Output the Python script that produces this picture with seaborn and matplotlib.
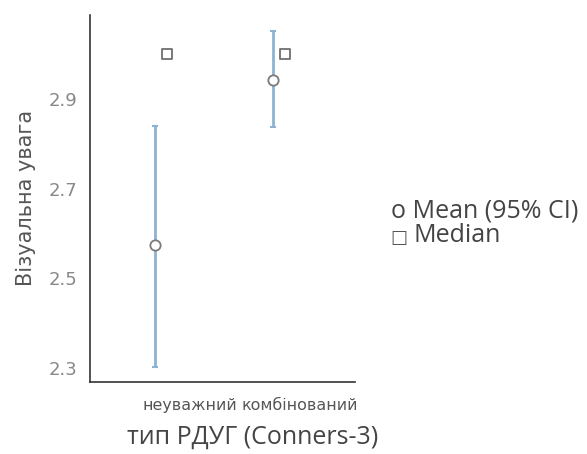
import numpy as np
import pandas as pd
import matplotlib
matplotlib.use("Agg")
import matplotlib.pyplot as plt
import matplotlib.transforms as mtransforms
import seaborn as sns

# data
categories = ["неуважний", "комбінований"]
means = [2.574, 2.942]
ci_low = [2.302, 2.837]
ci_high = [2.840, 3.051]
medians = [3.0, 3.0]
y_ticks = [2.3, 2.5, 2.7, 2.9]

sns.set_style("white")
plt.rcParams["font.family"] = ["DejaVu Sans"]

df = pd.DataFrame({
    "cat": categories,
    "pos": np.arange(len(categories)),
    "mean": means,
    "lo": ci_low,
    "hi": ci_high,
    "median": medians,
})
off = 0.05

fig = plt.figure(figsize=(5.87, 4.54), dpi=100)
ax = fig.add_axes([0.153, 0.159, 0.452, 0.808])

# confidence intervals
ax.errorbar(df["pos"] - off, df["mean"],
            yerr=[df["mean"] - df["lo"], df["hi"] - df["mean"]],
            fmt="none", ecolor="#8fb2d2", elinewidth=2, capsize=2, capthick=1.5, zorder=1)

# means and medians
sns.scatterplot(x=df["pos"] - off, y=df["mean"], ax=ax, marker="o", s=55,
                facecolor="white", edgecolor="#7a7a7a", linewidth=1.3, zorder=3)
sns.scatterplot(x=df["pos"] + off, y=df["median"], ax=ax, marker="s", s=45,
                facecolor="white", edgecolor="#6e6e6e", linewidth=1.3, zorder=3)

ax.set_xlim(-0.6, 1.645)
ax.set_ylim(2.269, 3.087)
ax.set_yticks(y_ticks)
ax.set_yticklabels([f"{v:.1f}" for v in y_ticks])
ax.set_xticks(df["pos"])
ax.set_xticklabels(categories)

for side in ["top", "right"]:
    ax.spines[side].set_visible(False)
for side in ["left", "bottom"]:
    ax.spines[side].set_color("#333333")
    ax.spines[side].set_linewidth(1.2)

ax.tick_params(axis="both", which="both", direction="out", length=4, width=1.1,
               color="#333333")
ax.tick_params(axis="y", labelsize=13, labelcolor="#888888", pad=5)
ax.tick_params(axis="x", labelsize=11.4, labelcolor="#555555", pad=8)
# the category labels sit right of their ticks in the source
for lab, dx in zip(ax.get_xticklabels(), [29, 21]):
    lab.set_transform(lab.get_transform() +
                      mtransforms.ScaledTranslation(dx / 100, 0, fig.dpi_scale_trans))

ax.set_ylabel("Візуальна увага", fontsize=15, color="#555555", labelpad=9)
ax.set_xlabel("тип РДУГ (Conners-3)", fontsize=18, color="#444444", labelpad=8,
              family=["Open Sans", "DejaVu Sans"])
ax.xaxis.label.set_transform(ax.xaxis.label.get_transform() +
                             mtransforms.ScaledTranslation(30 / 100, 0, fig.dpi_scale_trans))

# legend drawn as plain text, as in the source
leg_font = ["Open Sans", "DejaVu Sans"]
fig.text(391 / 587, 1 - 217 / 454, "o Mean (95% CI)", fontsize=18, color="#444444",
         va="baseline", ha="left", family=leg_font)
fig.text(390 / 587, 1 - 243 / 454, "□", fontsize=13, color="#555555",
         va="baseline", ha="left", family=["DejaVu Sans"])
fig.text(413 / 587, 1 - 242 / 454, "Median", fontsize=18, color="#444444",
         va="baseline", ha="left", family=leg_font)

fig.savefig("out.png", dpi=100, facecolor="white")
